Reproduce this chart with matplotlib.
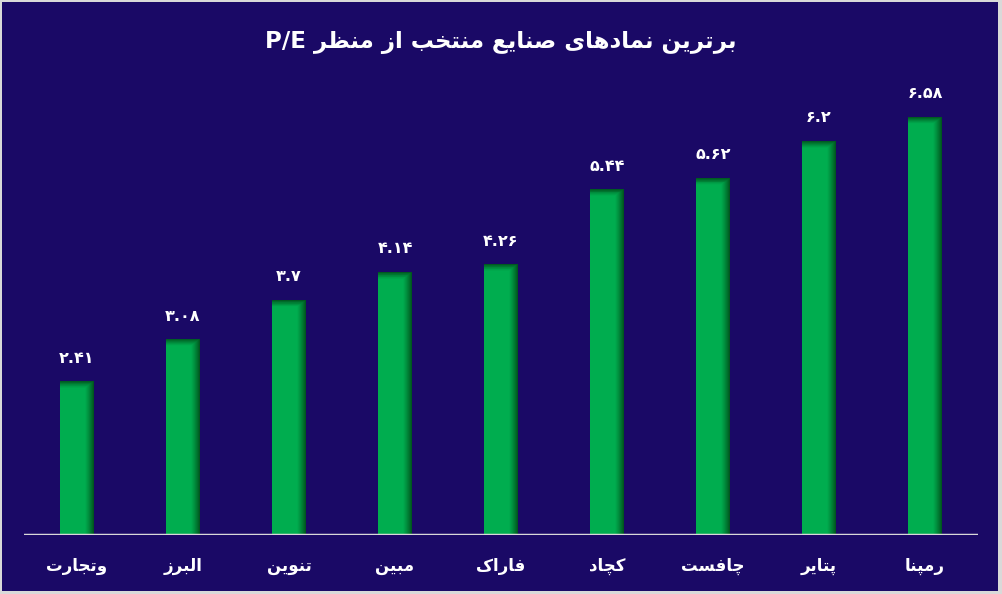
import matplotlib
matplotlib.use("Agg")
import matplotlib.pyplot as plt
import numpy as np
from matplotlib.patches import Rectangle

# data (right to left in the original, drawn left to right here)
symbols = ["وتجارت", "البرز", "تنوین", "مبین", "فاراک", "کچاد", "چافست", "پتایر", "رمپنا"]
pe_values = [2.41, 3.08, 3.7, 4.14, 4.26, 5.44, 5.62, 6.2, 6.58]
title_text = "برترین نمادهای صنایع منتخب از منظر"

BG = "#1a0966"
GREEN = np.array([0, 173, 79]) / 255.0
DARK = np.array([0, 85, 30]) / 255.0

# small shaper: matplotlib does not join arabic letters, so use presentation forms
FORMS = {
    "ا": (0xFE8D, 0xFE8E, None, None),
    "ب": (0xFE8F, 0xFE90, 0xFE91, 0xFE92),
    "پ": (0xFB56, 0xFB57, 0xFB58, 0xFB59),
    "ت": (0xFE95, 0xFE96, 0xFE97, 0xFE98),
    "ج": (0xFE9D, 0xFE9E, 0xFE9F, 0xFEA0),
    "چ": (0xFB7A, 0xFB7B, 0xFB7C, 0xFB7D),
    "خ": (0xFEA5, 0xFEA6, 0xFEA7, 0xFEA8),
    "د": (0xFEA9, 0xFEAA, None, None),
    "ر": (0xFEAD, 0xFEAE, None, None),
    "ز": (0xFEAF, 0xFEB0, None, None),
    "س": (0xFEB1, 0xFEB2, 0xFEB3, 0xFEB4),
    "ص": (0xFEB9, 0xFEBA, 0xFEBB, 0xFEBC),
    "ظ": (0xFEC5, 0xFEC6, 0xFEC7, 0xFEC8),
    "ع": (0xFEC9, 0xFECA, 0xFECB, 0xFECC),
    "ف": (0xFED1, 0xFED2, 0xFED3, 0xFED4),
    "ک": (0xFB8E, 0xFB8F, 0xFB90, 0xFB91),
    "ل": (0xFEDD, 0xFEDE, 0xFEDF, 0xFEE0),
    "م": (0xFEE1, 0xFEE2, 0xFEE3, 0xFEE4),
    "ن": (0xFEE5, 0xFEE6, 0xFEE7, 0xFEE8),
    "ه": (0xFEE9, 0xFEEA, 0xFEEB, 0xFEEC),
    "و": (0xFEED, 0xFEEE, None, None),
    "ی": (0xFBFC, 0xFBFD, 0xFBFE, 0xFBFF),
}


def shape_word(w):
    out = []
    for i, ch in enumerate(w):
        f = FORMS.get(ch)
        if f is None:
            out.append(ch)
            continue
        prev = FORMS.get(w[i - 1]) if i > 0 else None
        nxt = FORMS.get(w[i + 1]) if i + 1 < len(w) else None
        join_prev = prev is not None and prev[2] is not None
        join_next = nxt is not None and f[2] is not None
        if join_prev and join_next:
            code = f[3]
        elif join_prev:
            code = f[1]
        elif join_next:
            code = f[2]
        else:
            code = f[0]
        out.append(chr(code))
    return "".join(out[::-1])


def shape(text):
    return " ".join(shape_word(w) for w in text.split(" ")[::-1])


def fa_digits(v):
    s = ("%g" % v)
    return s.translate(str.maketrans("0123456789", "۰۱۲۳۴۵۶۷۸۹"))


plt.rcParams["font.family"] = ["DejaVu Sans"]

fig = plt.figure(figsize=(10.02, 5.94), dpi=100)
fig.patch.set_facecolor("#d9d9d9")
fig.patches.append(Rectangle((2 / 1002, 3 / 594), 996 / 1002, 589 / 594,
                             transform=fig.transFigure, facecolor=BG,
                             edgecolor="none", zorder=-10))

ax = fig.add_axes([24 / 1002, 59 / 594, 954 / 1002, 455 / 594])
ax.set_facecolor("none")
x = np.arange(len(symbols))
width = 0.32
ax.set_xlim(-0.5, len(symbols) - 0.5)
ax.set_ylim(0, 455 / 63.5)

bars = ax.bar(x, pe_values, width=width, color=GREEN, zorder=2)

# shading: darker band at the right side and at the top of each bar
for b in bars:
    x0, w, h = b.get_x(), b.get_width(), b.get_height()
    nx, ny = 68, 400
    u = (np.arange(nx) + 0.5) / nx
    edge_px = h * 63.5
    v = (np.arange(ny) + 0.5) / ny * edge_px  # pixels from bottom
    sx = np.clip((u - 0.74) / 0.26, 0, 1) ** 1.2
    sy = np.clip((v - (edge_px - 7)) / 7, 0, 1) ** 1.2
    s = np.maximum(sx[None, :], sy[:, None])
    img = GREEN[None, None, :] * (1 - s[..., None]) + DARK[None, None, :] * s[..., None]
    ax.imshow(img, extent=(x0, x0 + w, 0, h), origin="lower", aspect="auto",
              interpolation="nearest", zorder=3)

for xi, val in zip(x, pe_values):
    ax.text(xi, val + 0.25, fa_digits(val), ha="center", va="bottom",
            color="white", fontsize=11.5, fontweight="bold", zorder=4)

ax.axhline(0, color="#d9d9d9", linewidth=2.5, zorder=4)
ax.set_xticks(x)
ax.set_xticklabels([shape(s) for s in symbols], color="white",
                   fontsize=12, fontweight="bold")
ax.tick_params(axis="x", length=0, pad=16)
ax.set_yticks([])
for sp in ax.spines.values():
    sp.set_visible(False)

fig.text(0.5, 1 - 43 / 594, "P/E " + shape(title_text), ha="center", va="center",
         color="white", fontsize=16.5, fontweight="bold")

fig.savefig("out.png", dpi=100, facecolor=fig.get_facecolor())
